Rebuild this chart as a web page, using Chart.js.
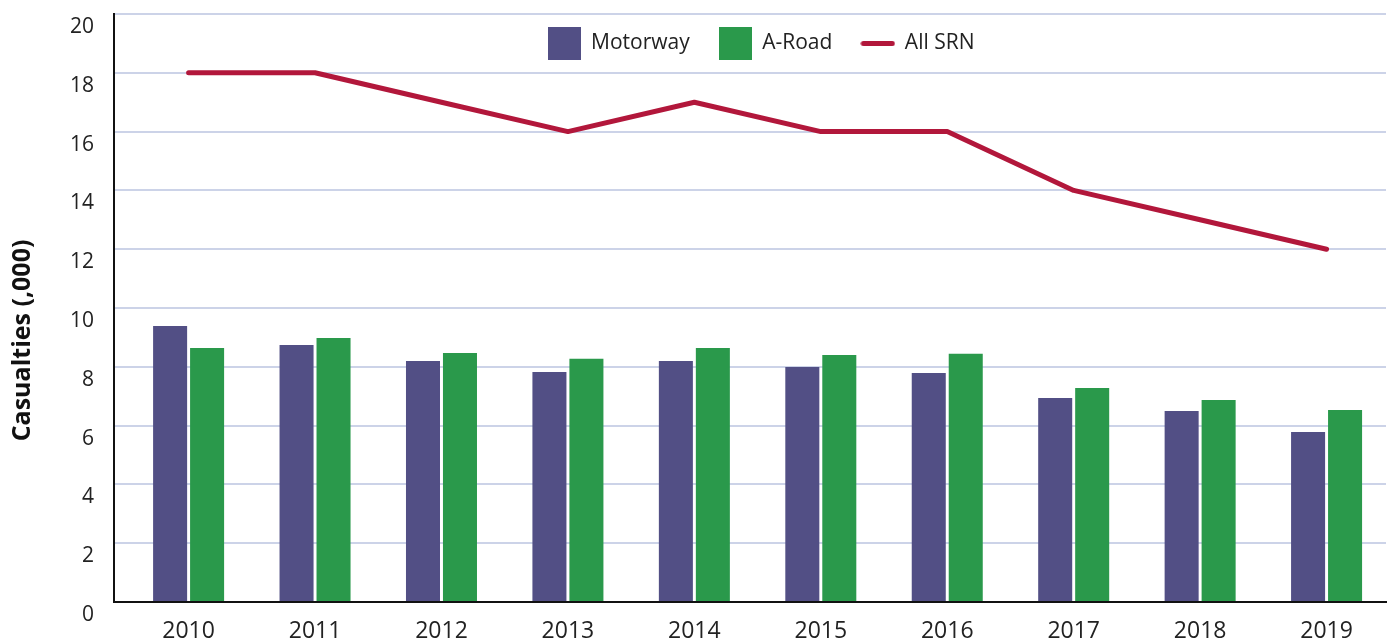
<!DOCTYPE html>
<html>
<head>
<meta charset="utf-8">
<script src="https://cdn.jsdelivr.net/npm/chart.js@4.4.1/dist/chart.umd.min.js"></script>
<style>
  html, body { margin: 0; padding: 0; background: #ffffff; }
  #wrap { width: 1392px; height: 643px; position: relative; }
</style>
</head>
<body>
<div id="wrap"><canvas id="c" width="1392" height="643"></canvas></div>
<script>
const years = [2010, 2011, 2012, 2013, 2014, 2015, 2016, 2017, 2018, 2019];
const motorway = [9.39, 8.74, 8.20, 7.82, 8.20, 7.99, 7.79, 6.94, 6.50, 5.78];
const aRoad = [8.64, 8.98, 8.47, 8.27, 8.64, 8.40, 8.44, 7.28, 6.87, 6.53];
const allSRN = [18, 18, 17, 16, 17, 16, 16, 14, 13, 12];
const yTicks = [0, 2, 4, 6, 8, 10, 12, 14, 16, 18, 20];
const seriesNames = ['Motorway', 'A-Road', 'All SRN'];
const yTitle = 'Casualties (,000)';

const FONT = "'Open Sans', 'Noto Sans', sans-serif";
const C_MOTOR = '#524f85';
const C_AROAD = '#2a994b';
const C_SRN = '#b2173b';
const C_GRID = '#ccd3e8';

function pts(vals) { return years.map((x, i) => ({ x: x, y: vals[i] })); }

function legendIcon(color, isLine) {
  const cv = document.createElement('canvas');
  cv.width = isLine ? 35 : 33;
  cv.height = 33;
  const g = cv.getContext('2d');
  if (isLine) {
    g.strokeStyle = color;
    g.lineWidth = 5;
    g.lineCap = 'round';
    g.beginPath();
    g.moveTo(3, 16.5);
    g.lineTo(32, 16.5);
    g.stroke();
  } else {
    g.fillStyle = color;
    g.fillRect(0, 0, 33, 33);
  }
  return cv;
}

const legendOverlay = {
  id: 'legendOverlay',
  beforeLayout(chart) {
    const lg = chart.legend;
    if (lg && !lg._ov) {
      const fit = lg.fit;
      lg.fit = function () { fit.call(this); this._fullH = this.height; this.height = 0; };
      lg._ov = true;
    }
  },
  afterLayout(chart) {
    const lg = chart.legend;
    if (lg) {
      lg.top = chart.chartArea.top - 10;
      lg.bottom = lg.top + (lg._fullH || 80);
      lg.left += 11;
      lg.right += 11;
    }
  }
};

new Chart(document.getElementById('c'), {
  type: 'bar',
  data: {
    datasets: [
      {
        type: 'line',
        label: seriesNames[2],
        data: pts(allSRN),
        borderColor: C_SRN,
        backgroundColor: C_SRN,
        borderWidth: 5,
        borderCapStyle: 'round',
        borderJoinStyle: 'round',
        pointRadius: 0,
        tension: 0,
        order: 0
      },
      {
        label: seriesNames[0],
        data: pts(motorway),
        backgroundColor: C_MOTOR,
        categoryPercentage: 0.585,
        barPercentage: 0.92,
        order: 1
      },
      {
        label: seriesNames[1],
        data: pts(aRoad),
        backgroundColor: C_AROAD,
        categoryPercentage: 0.585,
        barPercentage: 0.92,
        order: 1
      }
    ]
  },
  options: {
    responsive: false,
    animation: false,
    layout: { padding: { left: 0, right: 6, top: 14, bottom: 0 } },
    plugins: {
      tooltip: { enabled: false },
      legend: {
        position: 'top',
        fullSize: false,
        labels: {
          usePointStyle: true,
          pointStyleWidth: 33,
          padding: 29,
          color: '#222222',
          font: { family: FONT, size: 21 },
          sort: (a, b) => {
            const ord = [1, 2, 0];
            return ord.indexOf(a.datasetIndex) - ord.indexOf(b.datasetIndex);
          },
          generateLabels(chart) {
            const items = Chart.defaults.plugins.legend.labels.generateLabels(chart);
            items.forEach(it => {
              const ds = chart.data.datasets[it.datasetIndex];
              const isLine = ds.type === 'line';
              it.pointStyle = legendIcon(isLine ? ds.borderColor : ds.backgroundColor, isLine);
            });
            return items;
          }
        }
      }
    },
    scales: {
      x: {
        type: 'linear',
        offset: false,
        min: 2009.41,
        max: 2019.47,
        grid: { display: false, drawTicks: false, offset: false },
        border: { display: true, color: '#111111', width: 2 },
        afterBuildTicks(scale) { scale.ticks = years.map(v => ({ value: v })); },
        afterFit(scale) { scale.height = 41; scale.paddingLeft = 0; scale.paddingRight = 0; },
        ticks: {
          padding: 16,
          color: '#222222',
          font: { family: FONT, size: 23 },
          maxRotation: 0,
          autoSkip: false,
          callback: v => String(v)
        }
      },
      y: {
        min: 0,
        max: 20,
        afterBuildTicks(scale) { scale.ticks = yTicks.map(v => ({ value: v })); },
        afterFit(scale) { scale.width = 114; scale.paddingTop = 0; scale.paddingBottom = 0; },
        grid: {
          drawTicks: false,
          lineWidth: 2,
          color: ctx => (ctx.tick && ctx.tick.value === 0) ? 'rgba(0,0,0,0)' : C_GRID
        },
        border: { display: true, color: '#111111', width: 2 },
        ticks: {
          padding: 20,
          labelOffset: 13,
          color: '#222222',
          font: { family: FONT, size: 21 },
          callback: v => String(v)
        },
        title: {
          display: true,
          text: yTitle + ' '.repeat(10),
          color: '#111111',
          padding: { top: 8, bottom: 4 },
          font: { family: FONT, size: 25, weight: 'bold' }
        }
      }
    }
  },
  plugins: [legendOverlay]
});
</script>
</body>
</html>
